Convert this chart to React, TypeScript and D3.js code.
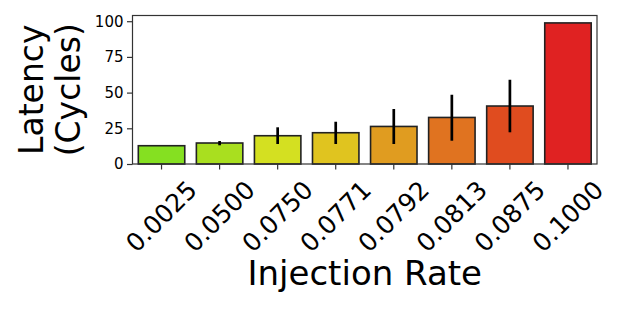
import { useEffect, useRef } from "react";
import * as d3 from "d3";

const rates = ["0.0025", "0.0500", "0.0750", "0.0771", "0.0792", "0.0813", "0.0875", "0.1000"];
const latency = [12.8, 14.7, 19.8, 21.9, 26.3, 32.6, 40.6, 98.8];
const errLow = [12.8, 13.1, 14.0, 14.0, 14.0, 16.3, 22.2, 98.8];
const errHigh = [12.8, 16.1, 25.7, 29.6, 38.5, 48.5, 59.0, 98.8];
const barColors = ["#85e021", "#a9df1f", "#d4e021", "#e0c41f", "#e09c20", "#e07320", "#e04c1f", "#e02222"];
const yTicks = [0, 25, 50, 75, 100];

const W = 623;
const H = 312;
const FONT = "DejaVu Sans, sans-serif";

const App = () => {
  const svgRef = useRef<SVGSVGElement>(null);

  useEffect(() => {
    if (!svgRef.current) return;
    const svg = d3.select(svgRef.current);
    svg.selectAll("*").remove();

    const left = 132.5;
    const right = 597;
    const top = 15.5;
    const bottom = 164;

    const x = d3
      .scaleBand<string>()
      .domain(rates)
      .range([left, right])
      .paddingInner(0.2)
      .paddingOuter(0.1);
    const y = d3.scaleLinear().domain([0, 104]).range([bottom, top]);

    // bars
    svg
      .append("g")
      .selectAll("rect")
      .data(rates)
      .join("rect")
      .attr("x", (d) => x(d)!)
      .attr("y", (_, i) => y(latency[i]))
      .attr("width", x.bandwidth())
      .attr("height", (_, i) => y(0) - y(latency[i]))
      .attr("fill", (_, i) => barColors[i])
      .attr("stroke", "#222")
      .attr("stroke-width", 1.6);

    // error bars
    svg
      .append("g")
      .selectAll("line")
      .data(rates)
      .join("line")
      .attr("x1", (d) => x(d)! + x.bandwidth() / 2)
      .attr("x2", (d) => x(d)! + x.bandwidth() / 2)
      .attr("y1", (_, i) => y(errLow[i]))
      .attr("y2", (_, i) => y(errHigh[i]))
      .attr("stroke", "#000")
      .attr("stroke-width", 2.7);

    // frame
    svg
      .append("rect")
      .attr("x", left)
      .attr("y", top)
      .attr("width", right - left)
      .attr("height", bottom - top)
      .attr("fill", "none")
      .attr("stroke", "#333")
      .attr("stroke-width", 1.2);

    // y axis
    const yAxis = svg
      .append("g")
      .attr("transform", `translate(${left},0)`)
      .call(d3.axisLeft(y).tickValues(yTicks).tickSize(5.5).tickPadding(3.5));
    yAxis.select(".domain").remove();
    yAxis.selectAll("line").attr("stroke", "#333").attr("stroke-width", 1.2);
    yAxis
      .selectAll("text")
      .attr("fill", "#000")
      .style("font-family", FONT)
      .style("font-size", "15px");

    // x ticks
    svg
      .append("g")
      .selectAll("line")
      .data(rates)
      .join("line")
      .attr("x1", (d) => x(d)! + x.bandwidth() / 2)
      .attr("x2", (d) => x(d)! + x.bandwidth() / 2)
      .attr("y1", bottom)
      .attr("y2", bottom + 5.5)
      .attr("stroke", "#333")
      .attr("stroke-width", 1.2);

    // x tick labels, rotated 45
    svg
      .append("g")
      .selectAll("text")
      .data(rates)
      .join("text")
      .attr(
        "transform",
        (d) => `translate(${x(d)! + x.bandwidth() / 2},216.5) rotate(-45)`
      )
      .attr("text-anchor", "middle")
      .attr("dominant-baseline", "central")
      .style("font-family", FONT)
      .style("font-size", "25px")
      .text((d) => d);

    // x label
    svg
      .append("text")
      .attr("x", (left + right) / 2)
      .attr("y", 285)
      .attr("text-anchor", "middle")
      .style("font-family", FONT)
      .style("font-size", "34px")
      .text("Injection Rate");

    // y label (two lines)
    const yl = svg
      .append("text")
      .attr("transform", `translate(43.3,${(top + bottom) / 2}) rotate(-90)`)
      .attr("text-anchor", "middle")
      .style("font-family", FONT)
      .style("font-size", "33px");
    yl.append("tspan").attr("x", 0).attr("y", 0).text("Latency");
    yl.append("tspan").attr("x", 0).attr("y", 37).text("(Cycles)");
  }, []);

  return (
    <svg
      ref={svgRef}
      width={W}
      height={H}
      style={{ display: "block", position: "absolute", left: 0, top: 0, background: "#fff" }}
    ></svg>
  );
};

export default App;
